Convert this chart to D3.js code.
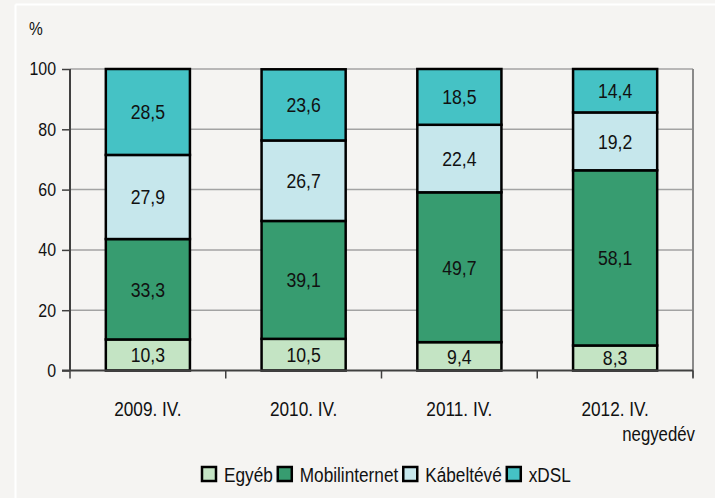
<!DOCTYPE html>
<html><head><meta charset="utf-8">
<script src="https://cdn.jsdelivr.net/npm/d3@7"></script>
<style>
body{margin:0;background:#f5f4f2;}
svg{display:block;}
text{font-family:"Liberation Sans",Arial,sans-serif;fill:#111;}
</style></head>
<body>
<svg id="c" width="715" height="498"></svg>
<script>
const categories = ["2009. IV.","2010. IV.","2011. IV.","2012. IV."];
const seriesNames = ["Egyéb","Mobilinternet","Kábeltévé","xDSL"];
const egyeb = [10.3,10.5,9.4,8.3];
const mobilinternet = [33.3,39.1,49.7,58.1];
const kabeltve = [27.9,26.7,22.4,19.2];
const xdsl = [28.5,23.6,18.5,14.4];
const yTicks = [0,20,40,60,80,100];
const colors = ["#c4e4c4","#379c70","#c6e7ec","#45c2c5"];

const NARROW = 0.86;
function narrow(sel){
  sel.each(function(){
    const w = this.getComputedTextLength();
    d3.select(this).attr("textLength", w*NARROW).attr("lengthAdjust","spacingAndGlyphs");
  });
}

const svg = d3.select("#c");
svg.append("line").attr("x1",15.5).attr("x2",715).attr("y1",4.5).attr("y2",4.5).attr("stroke","#fff").attr("stroke-width",2);
svg.append("line").attr("x1",15.5).attr("x2",15.5).attr("y1",4.5).attr("y2",498).attr("stroke","#fff").attr("stroke-width",2);

const L=70, R=693, T=69, B=370.5;
const x = d3.scaleBand().domain(categories).range([L,R]).paddingInner(0.46).paddingOuter(0.23);
const y = d3.scaleLinear().domain([0,100]).range([B,T]);

svg.append("g").selectAll("line").data(yTicks.filter(d=>d>0)).join("line")
  .attr("x1",L).attr("x2",R).attr("y1",d=>y(d)).attr("y2",d=>y(d))
  .attr("stroke","#a3a3a3").attr("stroke-width",1.5);
svg.append("line").attr("x1",R).attr("x2",R).attr("y1",T).attr("y2",B+7).attr("stroke","#8a8a8a").attr("stroke-width",2);

const data = categories.map((c,i)=>({cat:c, "Egyéb":egyeb[i], "Mobilinternet":mobilinternet[i], "Kábeltévé":kabeltve[i], "xDSL":xdsl[i]}));
const stack = d3.stack().keys(seriesNames)(data);

const g = svg.append("g");
stack.forEach((s,si)=>{
  g.selectAll(null).data(s).join("rect")
    .attr("x",d=>x(d.data.cat)).attr("width",x.bandwidth())
    .attr("y",d=>y(d[1])).attr("height",d=>y(d[0])-y(d[1]))
    .attr("fill",colors[si]).attr("stroke","#000").attr("stroke-width",2.5);
});
stack.forEach((s,si)=>{
  g.selectAll(null).data(s).join("text")
    .attr("x",d=>x(d.data.cat)+x.bandwidth()/2)
    .attr("y",d=>y((d[0]+d[1])/2))
    .attr("dy","0.36em").attr("text-anchor","middle").attr("font-size",20.5)
    .text(d=>d3.format(".1f")(d[1]-d[0]).replace(".",","))
    .call(narrow);
});

const yAxis = svg.append("g").attr("transform",`translate(${L},0)`)
  .call(d3.axisLeft(y).tickValues(yTicks).tickSize(8).tickPadding(6));
yAxis.select(".domain").attr("stroke","#404040").attr("stroke-width",2).attr("d",`M0,${T}V${B}`);
yAxis.selectAll(".tick line").attr("stroke","#404040").attr("stroke-width",1.5);
yAxis.selectAll("text").attr("font-size",18.5).attr("font-family",null).attr("fill","#111").call(narrow);

const xb = d3.scaleLinear().domain([0,4]).range([L,R]);
svg.append("line").attr("x1",L-8).attr("x2",R).attr("y1",B).attr("y2",B).attr("stroke","#404040").attr("stroke-width",2);
svg.append("g").selectAll("line").data(d3.range(5)).join("line")
  .attr("x1",d=>xb(d)).attr("x2",d=>xb(d)).attr("y1",B).attr("y2",B+8)
  .attr("stroke","#404040").attr("stroke-width",1.5);
svg.append("g").selectAll("text").data(categories).join("text")
  .attr("x",d=>x(d)+x.bandwidth()/2).attr("y",416).attr("text-anchor","middle").attr("font-size",20).text(d=>d)
  .call(narrow);

svg.append("text").attr("x",695).attr("y",441).attr("text-anchor","end").attr("font-size",19.5).text("negyedév").call(narrow);
svg.append("text").attr("x",29).attr("y",35).attr("font-size",18).text("%").call(narrow);

const leg = svg.append("g");
let lx = 202;
seriesNames.forEach((n,i)=>{
  leg.append("rect").attr("x",lx).attr("y",467).attr("width",14).attr("height",14)
    .attr("fill",colors[i]).attr("stroke","#000").attr("stroke-width",2.5);
  const t = leg.append("text").attr("x",lx+22).attr("y",482).attr("font-size",20).text(n).call(narrow);
  lx = lx + 22 + t.node().getComputedTextLength() + 5;
});
</script>
</body></html>
